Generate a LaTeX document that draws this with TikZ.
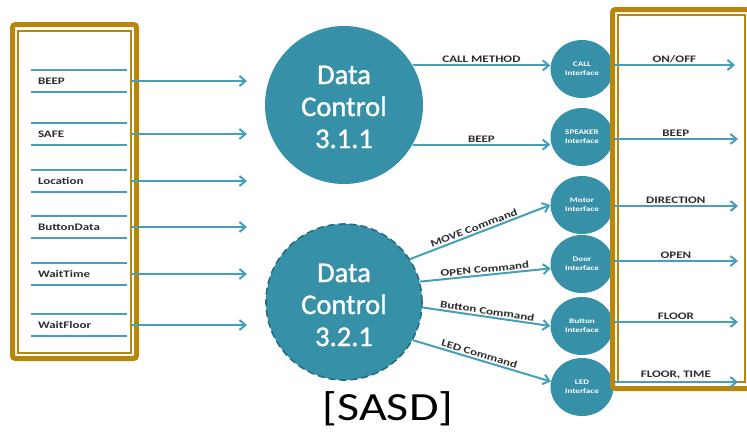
\documentclass[tikz,border=0pt]{standalone}
\usepackage{fontspec}
\setmainfont{Carlito}
\newfontfamily\procfont{Carlito}[FakeBold=1.2]
\usetikzlibrary{arrows.meta,shapes.geometric}
\definecolor{tealfill}{RGB}{54,145,168}
\definecolor{tealdark}{RGB}{38,108,128}
\definecolor{tealline}{RGB}{70,158,184}
\definecolor{goldframe}{RGB}{184,134,11}
\definecolor{labelgray}{RGB}{45,45,45}
% wide setting of the small labels
\newcommand{\widetxt}[1]{\scalebox{1.3}[1]{#1}}
\tikzset{
  process/.style={circle, fill=tealfill, minimum size=158pt, inner sep=0pt},
  proctext/.style={inner sep=0pt, text=white, align=center,
    font=\procfont\fontsize{28.5}{32}\selectfont},
  iface/.style={ellipse, fill=tealfill, minimum width=63pt, minimum height=58pt,
    inner sep=0pt, text=white, align=center, font=\fontsize{7}{9}\selectfont\bfseries},
  flow/.style={draw=tealline, line width=2pt,
    -{Straight Barb[length=6pt,width=10pt]}},
  flowlabel/.style={text=labelgray, font=\fontsize{10}{11}\selectfont\bfseries,
    inner sep=1.5pt},
  store/.style={minimum width=96pt, minimum height=21pt, inner xsep=7pt,
    text width=82pt, align=left, text=labelgray,
    font=\fontsize{10}{11}\selectfont\bfseries},
  storeline/.style={draw=tealline, line width=1.8pt},
  framethick/.style={draw=goldframe, line width=5pt, rounded corners=3pt},
  framethin/.style={draw=goldframe, line width=1.4pt},
}
\begin{document}
\begin{tikzpicture}[x=1pt, y=-1pt]
\useasboundingbox (0,0) rectangle (747,432);

% ---- left frame with data stores ----
\draw[framethick, fill=white] (12.5,24.5) rectangle (136.5,358.5);
\draw[framethin] (18,31) rectangle (131,353);
\foreach \nm/\txt/\yy in {sa/BEEP/81, sb/SAFE/134, sc/Location/181,
                          sd/ButtonData/227, se/WaitTime/274, sf/WaitFloor/325}{
  \node[store] (\nm) at (79,\yy) {\widetxt{\txt}};
  \draw[storeline] (\nm.north west) -- (\nm.north east)
                   (\nm.south west) -- (\nm.south east);
  \coordinate (\nm-in) at (247,\yy);
  \draw[flow] ([xshift=5pt]\nm.east) -- (\nm-in);
}

% ---- processes ----
\node[process] (c1) at (344,105) {};
\node[proctext, yshift=-2pt] (t1) at (c1) {Data\\Control\\3.1.1};
\node[process, draw=tealdark, line width=1.6pt, dash pattern=on 7pt off 4pt,
      minimum size=156pt] (c2) at (344,302) {};
\node[proctext, yshift=-3pt] (t2) at (c2) {Data\\Control\\3.2.1};

% ---- interfaces ----
\node[iface] (call)  at (582,69)  {\widetxt{CALL}\\\widetxt{Interface}};
\node[iface] (spk)   at (582,137) {\widetxt{SPEAKER}\\\widetxt{Interface}};
\node[iface] (motor) at (582,205) {\widetxt{Motor}\\\widetxt{Interface}};
\node[iface] (door)  at (582,264) {\widetxt{Door}\\\widetxt{Interface}};
\node[iface] (btn)   at (582,326) {\widetxt{Button}\\\widetxt{Interface}};
\node[iface] (led)   at (582,387) {\widetxt{LED}\\\widetxt{Interface}};

% ---- flows out of the processes ----
\draw[flow] (c1.30) -- node[flowlabel, above]{\widetxt{CALL METHOD}} (c1.30 -| call.west);
\draw[flow] (c1.-30) -- node[flowlabel, above]{\widetxt{BEEP}} (c1.-30 -| spk.west);
\draw[flow] (c2.33) -- node[flowlabel, above, sloped, pos=0.47]{\widetxt{MOVE Command}} (motor.west);
\draw[flow] (c2.15) -- node[flowlabel, above, sloped]{\widetxt{OPEN Command}} (door.188);
\draw[flow] (c2.-4) -- node[flowlabel, above, sloped]{\widetxt{Button Command}} (btn.west);
\draw[flow] (c2.-29) -- node[flowlabel, above, sloped, pos=0.47]{\widetxt{LED Command}} (led.170);

% ---- right frame with outputs ----
\draw[framethick, fill=white] (612.5,9.5) rectangle (760,388.5);
\draw[framethin] (618,15) rectangle (745,382);
\coordinate (o1) at (735,65);
\coordinate (o2) at (738,139);
\coordinate (o3) at (738,206);
\coordinate (o4) at (738,261);
\coordinate (o5) at (738,322);
\coordinate (o6) at (738,382);
\draw[flow] (call.east |- o1) -- node[flowlabel, above]{\widetxt{ON/OFF}} (o1);
\draw[flow] (spk.east |- o2) -- node[flowlabel, above]{\widetxt{BEEP}} (o2);
\draw[flow] (motor.east |- o3) -- node[flowlabel, above]{\widetxt{DIRECTION}} (o3);
\draw[flow] (door.east |- o4) -- node[flowlabel, above]{\widetxt{OPEN}} (o4);
\draw[flow] (btn.east |- o5) -- node[flowlabel, above]{\widetxt{FLOOR}} (o5);
\draw[flow] (led.east |- o6) -- node[flowlabel, above, yshift=1pt]{\widetxt{FLOOR, TIME}} (o6);

% ---- caption ----
\node[text=black, inner sep=0pt] (cap) at (388,409)
  {\scalebox{1.2}[1]{\fontsize{40}{40}\selectfont [SASD]}};
\end{tikzpicture}
\end{document}
